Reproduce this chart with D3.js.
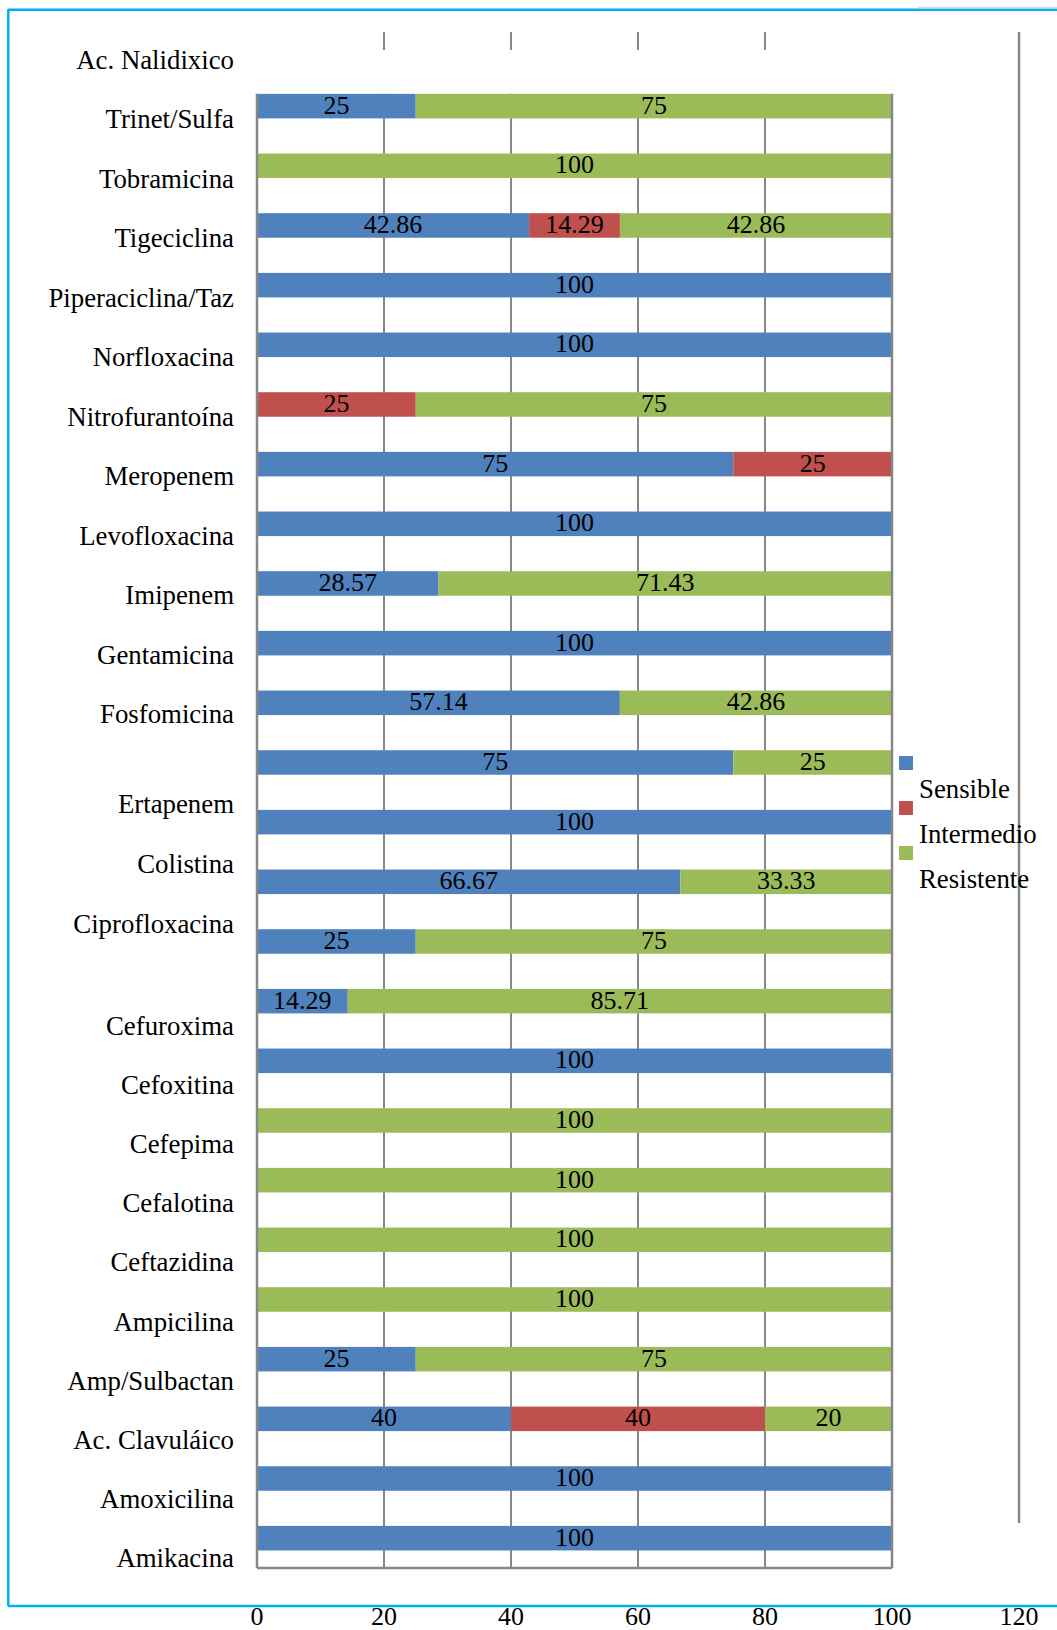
<!DOCTYPE html>
<html>
<head>
<meta charset="utf-8">
<script src="https://cdn.jsdelivr.net/npm/d3@7"></script>
<style>
  body { margin: 0; background: #fff; }
  svg text { font-family: "Liberation Serif", "Times New Roman", serif; fill: #000; }
</style>
</head>
<body>
<div id="chart"></div>
<script>
// antibiotics, top to bottom as they appear
var antibioticos = ["Ac. Nalidixico", "Trinet/Sulfa", "Tobramicina", "Tigeciclina", "Piperaciclina/Taz",
  "Norfloxacina", "Nitrofurantoína", "Meropenem", "Levofloxacina", "Imipenem", "Gentamicina",
  "Fosfomicina", "Ertapenem", "Colistina", "Ciprofloxacina", "Cefuroxima", "Cefoxitina", "Cefepima",
  "Cefalotina", "Ceftazidina", "Ampicilina", "Amp/Sulbactan", "Ac. Clavuláico", "Amoxicilina", "Amikacina"];

var sensible   = [25, 0, 42.86, 100, 100, 0, 75, 100, 28.57, 100, 57.14, 75, 100, 66.67, 25, 14.29, 100, 0, 0, 0, 0, 25, 40, 100, 100];
var intermedio = [0, 0, 14.29, 0, 0, 25, 25, 0, 0, 0, 0, 0, 0, 0, 0, 0, 0, 0, 0, 0, 0, 0, 40, 0, 0];
var resistente = [75, 100, 42.86, 0, 0, 75, 0, 0, 71.43, 0, 42.86, 25, 0, 33.33, 75, 85.71, 0, 100, 100, 100, 100, 75, 20, 0, 0];

var series = ["Sensible", "Intermedio", "Resistente"];
var xTicks = [0, 20, 40, 60, 80, 100, 120];

var colors = { "Sensible": "#4f81bd", "Intermedio": "#c0504d", "Resistente": "#9bbb59" };
var gridColor = "#878787";
var fontSize = 26;
var labelSize = 26.8;

var svgWidth = 1057;
var svgHeight = 1630;

var svg = d3.select("#chart")
  .append("svg")
  .attr("width", svgWidth)
  .attr("height", svgHeight);

svg.append("rect").attr("width", svgWidth).attr("height", svgHeight).attr("fill", "#fff");

// scales
var x = d3.scaleLinear().domain([0, 120]).range([257, 1019]);
var y = d3.scaleBand()
  .domain(antibioticos)
  .range([76.3, 1568])
  .paddingInner(0.589)
  .paddingOuter(0.2945);

var plotTop = y(antibioticos[0]);
var plotBottom = 1568;

// rows for the stack
var rows = antibioticos.map(function(name, i) {
  return { name: name, Sensible: sensible[i], Intermedio: intermedio[i], Resistente: resistente[i] };
});
var stacked = d3.stack().keys(series)(rows);

// gridlines (inside plot)
svg.append("g").selectAll("line")
  .data(xTicks.filter(function(t) { return t > 0 && t < 100; }))
  .enter().append("line")
  .attr("x1", function(d) { return x(d); }).attr("x2", function(d) { return x(d); })
  .attr("y1", plotTop).attr("y2", plotBottom)
  .attr("stroke", gridColor).attr("stroke-width", 2);

// stray tick marks above the plot
svg.append("g").selectAll("line")
  .data(xTicks.filter(function(t) { return t > 0 && t < 100; }))
  .enter().append("line")
  .attr("x1", function(d) { return x(d); }).attr("x2", function(d) { return x(d); })
  .attr("y1", 32).attr("y2", 50)
  .attr("stroke", gridColor).attr("stroke-width", 2);

// long line at 120
svg.append("line")
  .attr("x1", x(120)).attr("x2", x(120))
  .attr("y1", 32).attr("y2", 1523)
  .attr("stroke", gridColor).attr("stroke-width", 2.5);

// bars
var layers = svg.append("g").selectAll("g")
  .data(stacked)
  .enter().append("g")
  .attr("fill", function(d) { return colors[d.key]; });

layers.selectAll("rect")
  .data(function(d) { return d; })
  .enter().append("rect")
  .attr("x", function(d) { return x(d[0]); })
  .attr("width", function(d) { return x(d[1]) - x(d[0]); })
  .attr("y", function(d) { return y(d.data.name); })
  .attr("height", y.bandwidth());

// value labels
layers.selectAll("text")
  .data(function(d) { return d.filter(function(s) { return s[1] - s[0] > 0; }); })
  .enter().append("text")
  .attr("x", function(d) { return x((d[0] + d[1]) / 2); })
  .attr("y", function(d) { return y(d.data.name) + y.bandwidth() / 2 + 7.5; })
  .attr("text-anchor", "middle")
  .attr("font-size", fontSize)
  .text(function(d) { return String(+(d[1] - d[0]).toFixed(2)); });

// plot frame: left, right, bottom
var frame = svg.append("g").attr("stroke", gridColor).attr("stroke-width", 2.5).attr("fill", "none");
frame.append("line").attr("x1", x(0)).attr("x2", x(0)).attr("y1", plotTop).attr("y2", plotBottom);
frame.append("line").attr("x1", x(100)).attr("x2", x(100)).attr("y1", plotTop).attr("y2", plotBottom);
frame.append("line").attr("x1", x(0)).attr("x2", x(100)).attr("y1", plotBottom).attr("y2", plotBottom);

// category labels: drawn in three runs that drift from the bars
var labelRuns = [
  { from: 0, to: 11, y0: 69, y1: 723 },
  { from: 12, to: 14, y0: 813, y1: 933 },
  { from: 15, to: 24, y0: 1035, y1: 1567 }
];
var labelG = svg.append("g");
labelRuns.forEach(function(run) {
  var names = antibioticos.slice(run.from, run.to + 1);
  var ly = d3.scalePoint().domain(names).range([run.y0, run.y1]);
  labelG.selectAll(null)
    .data(names)
    .enter().append("text")
    .attr("x", 234)
    .attr("y", function(d) { return ly(d); })
    .attr("text-anchor", "end")
    .attr("font-size", labelSize)
    .text(function(d) { return d; });
});

// legend
var legend = svg.append("g").selectAll("g")
  .data(series)
  .enter().append("g")
  .attr("transform", function(d, i) { return "translate(899," + (756 + i * 45) + ")"; });
legend.append("rect").attr("width", 14).attr("height", 14).attr("fill", function(d) { return colors[d]; });
legend.append("text").attr("x", 20).attr("y", 42).attr("font-size", labelSize).text(function(d) { return d; });

// outer blue frame
var border = svg.append("g").attr("stroke", "#00b0f0").attr("stroke-width", 2.5);
svg.append("line").attr("x1", 918).attr("x2", svgWidth).attr("y1", 7.5).attr("y2", 7.5)
  .attr("stroke", "#d9d9d9").attr("stroke-width", 1.5);
border.append("line").attr("x1", 8).attr("x2", svgWidth).attr("y1", 9.7).attr("y2", 9.7);
border.append("line").attr("x1", 8.3).attr("x2", 8.3).attr("y1", 9).attr("y2", 1606);
border.append("line").attr("x1", 8).attr("x2", svgWidth).attr("y1", 1606).attr("y2", 1606);

// x axis tick labels below the frame
svg.append("g").selectAll("text")
  .data(xTicks)
  .enter().append("text")
  .attr("x", function(d) { return x(d); })
  .attr("y", 1625)
  .attr("text-anchor", "middle")
  .attr("font-size", fontSize)
  .text(function(d) { return d; });
</script>
</body>
</html>
